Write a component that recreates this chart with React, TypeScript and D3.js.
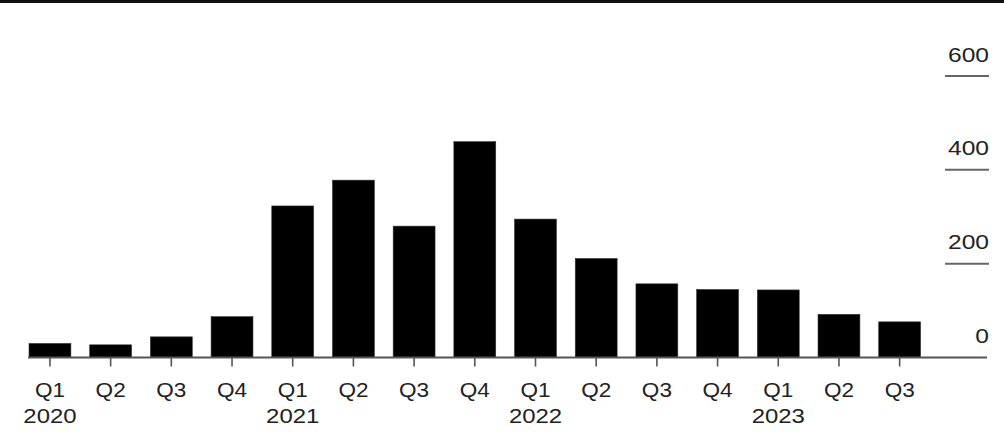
import React from "react";
import * as d3 from "d3";

const quarters = ["Q1","Q2","Q3","Q4","Q1","Q2","Q3","Q4","Q1","Q2","Q3","Q4","Q1","Q2","Q3"];
const years = ["2020","","","","2021","","","","2022","","","","2023","",""];
const values = [30, 27, 44, 87, 323, 378, 280, 460, 295, 211, 157, 145, 144, 92, 76];
const yTicks = [0, 200, 400, 600];

const W = 1004;
const H = 436;
const FONT = "'Liberation Sans', Arial, Helvetica, sans-serif";

export default function App() {
  const ids = values.map((_, i) => String(i));
  const x = d3.scaleBand<string>().domain(ids).range([19.6, 930]).paddingInner(0.31).paddingOuter(0.155);
  const y = d3.scaleLinear().domain([0, 600]).range([357.5, 76]);
  const bw = x.bandwidth();
  return (
    <svg width={W} height={H} style={{ position: "fixed", left: 0, top: 0, background: "#fff" }}>
      <rect x={0} y={0} width={W} height={3} fill="#111" />
      {values.map((v, i) => (
        <rect key={i} x={x(String(i))!} y={y(v)} width={bw} height={y(0) - y(v)} fill="#000" stroke="#333" strokeWidth={0.6} />
      ))}
      <line x1={28} x2={987} y1={y(0)} y2={y(0)} stroke="#555" strokeWidth={1.8} />
      {values.map((_, i) => {
        const cx = x(String(i))! + bw / 2;
        return (
          <g key={"t" + i}>
            <line x1={cx} x2={cx} y1={y(0)} y2={y(0) + 9} stroke="#555" strokeWidth={1.6} />
            <text transform={`translate(${cx},396.5) scale(1.1,1)`} textAnchor="middle" fontFamily={FONT} fontSize={20.5} fill="#222">{quarters[i]}</text>
            {years[i] && (
              <text transform={`translate(${cx},423) scale(1.14,1)`} textAnchor="middle" fontFamily={FONT} fontSize={21} fill="#222">{years[i]}</text>
            )}
          </g>
        );
      })}
      {yTicks.map((t) => (
        <g key={"y" + t}>
          {t > 0 && <line x1={945} x2={989} y1={y(t)} y2={y(t)} stroke="#666" strokeWidth={2} />}
          <text transform={`translate(989,${y(t) - 14.5}) scale(1.2,1)`} textAnchor="end" fontFamily={FONT} fontSize={20.5} fill="#222">{t}</text>
        </g>
      ))}
    </svg>
  );
}
